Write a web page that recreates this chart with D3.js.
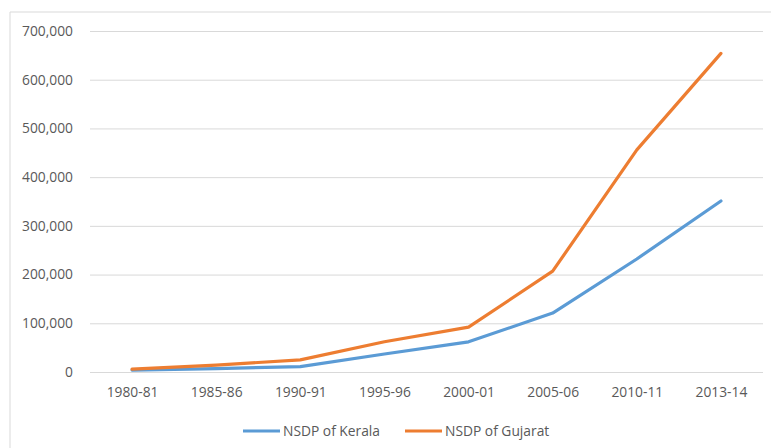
<!DOCTYPE html>
<html>
<head>
<meta charset="utf-8">
<script src="https://cdn.jsdelivr.net/npm/d3@7"></script>
<style>
  html, body { margin: 0; padding: 0; background: #fff; }
  svg { display: block; }
  text { font-family: "Open Sans", "Liberation Sans", sans-serif; fill: #595959; }
</style>
</head>
<body>
<svg id="chart" width="771" height="448"></svg>
<script>
// NSDP (Net State Domestic Product), by year
const years = ["1980-81", "1985-86", "1990-91", "1995-96", "2000-01", "2005-06", "2010-11", "2013-14"];
const keralaValues = [4000, 7000, 11000, 37000, 62000, 121000, 232000, 351000];
const gujaratValues = [6000, 14000, 25000, 62000, 92000, 207000, 456000, 654000];
const yTicks = [0, 100000, 200000, 300000, 400000, 500000, 600000, 700000];

const series = [
  { name: "NSDP of Kerala", values: keralaValues, color: "#5B9BD5" },
  { name: "NSDP of Gujarat", values: gujaratValues, color: "#ED7D31" }
];

const svg = d3.select("#chart");
const width = 771, height = 448;
const plot = { left: 90, right: 763, top: 31, bottom: 372 };
const fontSize = "13.8px";

// outer chart frame
svg.append("path")
  .attr("d", `M10,${height + 2} L10,12 L${width + 2},12`)
  .attr("fill", "none")
  .attr("stroke", "#d9d9d9")
  .attr("stroke-width", 1);

const x = d3.scalePoint().domain(years).range([plot.left, plot.right]).padding(0.5);
const y = d3.scaleLinear().domain([0, 700000]).range([plot.bottom, plot.top]);

// gridlines + y labels
const yAxis = d3.axisLeft(y)
  .tickValues(yTicks)
  .tickSize(-(plot.right - plot.left))
  .tickPadding(17)
  .tickFormat(d3.format(","));
svg.append("g")
  .attr("transform", `translate(${plot.left},0)`)
  .call(yAxis)
  .call(g => g.select(".domain").remove())
  .call(g => g.selectAll("line").attr("stroke", "#d9d9d9").attr("stroke-width", 1))
  .call(g => g.selectAll("text")
    .attr("font-size", fontSize)
    .style("font-family", "'Open Sans', 'Liberation Sans', sans-serif")
    .attr("fill", "#595959"));

// x labels
const xAxis = d3.axisBottom(x).tickSize(0).tickPadding(15);
svg.append("g")
  .attr("transform", `translate(0,${plot.bottom})`)
  .call(xAxis)
  .call(g => g.select(".domain").remove())
  .call(g => g.selectAll("text")
    .attr("font-size", fontSize)
    .style("font-family", "'Open Sans', 'Liberation Sans', sans-serif")
    .attr("fill", "#595959"));

// lines
const line = d3.line()
  .x((d, i) => x(years[i]))
  .y(d => y(d));

svg.selectAll(".series")
  .data(series)
  .enter()
  .append("path")
  .attr("class", "series")
  .attr("d", d => line(d.values))
  .attr("fill", "none")
  .attr("stroke", d => d.color)
  .attr("stroke-width", 3.2)
  .attr("stroke-linejoin", "round")
  .attr("stroke-linecap", "round");

// legend
const legendItems = [
  { s: series[0], x: 243 },
  { s: series[1], x: 405 }
];
const legendY = 431;
const lg = svg.append("g");
legendItems.forEach(item => {
  lg.append("line")
    .attr("x1", item.x).attr("x2", item.x + 37)
    .attr("y1", legendY).attr("y2", legendY)
    .attr("stroke", item.s.color)
    .attr("stroke-width", 3.2);
  lg.append("text")
    .attr("x", item.x + 40)
    .attr("y", legendY)
    .attr("dy", "0.35em")
    .attr("font-size", fontSize)
    .text(item.s.name);
});
</script>
</body>
</html>
